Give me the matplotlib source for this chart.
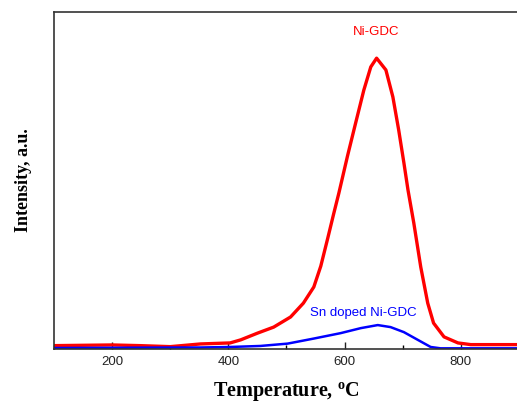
import numpy as np
import matplotlib
matplotlib.use("Agg")
import matplotlib.pyplot as plt
from matplotlib.ticker import MultipleLocator

# values (temperature in C, intensity in a.u.)
ni_temp = [100, 200, 248, 300, 352, 403, 421, 450, 478, 507, 529, 547, 559, 571,
           581, 590, 605, 619, 633, 645, 655, 671, 683, 693, 702, 709, 719, 731,
           743, 753, 771, 795, 817, 900]
ni_int = [1.0, 1.2, 1.0, 0.7, 1.5, 1.8, 2.7, 4.7, 6.5, 9.5, 13.6, 18.4, 24.6, 32.9,
          40.0, 46.2, 57.3, 67.1, 76.8, 83.7, 86.3, 82.8, 74.8, 65.0, 55.2, 47.2,
          37.4, 24.3, 13.6, 7.7, 3.6, 1.8, 1.3, 1.3]

sn_temp = [100, 352, 403, 455, 502, 547, 593, 628, 657, 679, 702, 726, 748, 765, 900]
sn_int = [0.3, 0.45, 0.6, 0.9, 1.6, 3.1, 4.7, 6.2, 7.1, 6.5, 5.0, 2.7, 0.6, 0.2, 0.2]

xticks = [200, 400, 600, 800]

plt.rcParams['font.family'] = ['Liberation Sans', 'DejaVu Sans']
plt.rcParams['mathtext.fontset'] = 'custom'
plt.rcParams['mathtext.rm'] = 'Liberation Serif:bold'

fig = plt.figure(figsize=(5.17, 4.04), dpi=100)
ax = fig.add_axes([54/517, 55/404, 465/517, 337/404])

ax.plot(ni_temp, ni_int, color='#ff0000', lw=2.4)
ax.plot(sn_temp, sn_int, color='#0000ff', lw=1.8)

ax.set_xlim(100, 900)
ax.set_ylim(0, 100)
ax.set_xticks(xticks)
ax.xaxis.set_minor_locator(MultipleLocator(100))
ax.set_yticks([])
ax.tick_params(axis='x', which='major', direction='in', length=5, width=1, pad=5,
               labelsize=9.5, colors='#222222')
ax.tick_params(axis='x', which='minor', direction='in', length=3, width=1)
ax.spines['right'].set_visible(False)
for s in ['left', 'top', 'bottom']:
    ax.spines[s].set_linewidth(1.2)
    ax.spines[s].set_color('#333333')

ax.text(655, 94, 'Ni-GDC', color='#ff0000', fontsize=9.5, ha='center', va='center')
ax.text(633, 10.7, 'Sn doped Ni-GDC', color='#0000ff', fontsize=9.5, ha='center', va='center')

ax.set_xlabel(r'Temperature, $^{\rm o}$C', family='Liberation Serif', fontweight='bold',
              fontsize=14.5, labelpad=9)
ax.set_ylabel('Intensity, a.u.', family='Liberation Serif', fontweight='bold',
              fontsize=13, labelpad=16)

fig.savefig('out.png', dpi=100)
